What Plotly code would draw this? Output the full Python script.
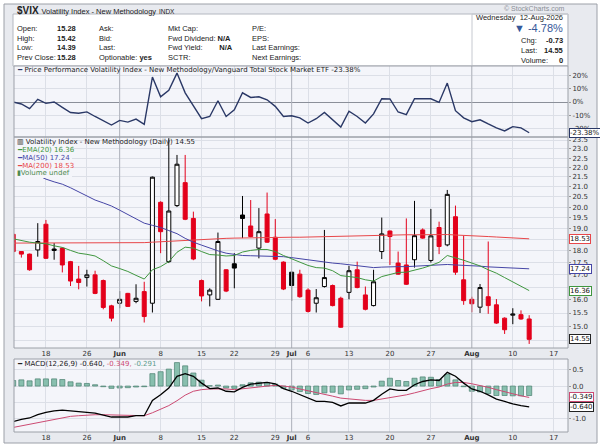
import numpy as np
import pandas as pd
import plotly.graph_objects as go

W, H = 600, 447

# trading calendar (weekends + US market holidays skipped)
HOLIDAYS = ["2026-05-25", "2026-06-19", "2026-07-03"]
DATES = pd.bdate_range("2026-05-12", "2026-08-12", freq="C", holidays=HOLIDAYS)

OPEN = [18.73, 17.97, 17.86, 18.04, 19.19, 18.08, 18.12, 17.54, 16.82, 16.88,
        16.99, 16.76, 15.77, 15.87, 16.25, 15.94, 16.32, 15.87, 20.23, 17.54,
        20.07, 21.21, 19.46, 16.76, 16.19, 16.02, 17.20, 17.45, 19.62, 19.11,
        18.12, 19.67, 18.60, 17.52, 17.10, 17.02, 16.38, 15.87, 16.52, 16.56,
        16.06, 16.29, 17.20, 16.19, 15.78, 17.97, 18.88, 17.48, 17.40, 17.62,
        18.93, 17.59, 19.04, 18.26, 19.54, 16.79, 16.02, 15.72, 16.12, 15.81,
        15.31, 15.42, 15.44, 15.28]
HIGH = [18.85, 17.99, 17.88, 19.24, 19.39, 18.34, 18.15, 17.57, 17.36, 17.20,
        17.16, 16.80, 15.81, 16.34, 16.27, 16.61, 16.71, 21.52, 20.28, 23.60,
        22.67, 22.67, 19.78, 16.80, 16.45, 18.81, 17.22, 17.90, 20.54, 20.34,
        19.95, 20.71, 19.43, 17.55, 17.12, 17.20, 16.45, 16.42, 18.93, 16.60,
        16.12, 17.36, 17.54, 16.52, 17.20, 19.50, 18.90, 17.97, 19.46, 20.30,
        19.00, 19.91, 19.31, 20.84, 20.07, 18.67, 16.12, 16.62, 18.41, 16.03,
        15.34, 15.68, 15.60, 15.42]
LOW = [17.90, 17.71, 17.16, 17.75, 17.65, 17.62, 17.09, 16.54, 16.41, 16.52,
       16.22, 15.64, 15.19, 15.68, 15.73, 15.87, 15.15, 15.52, 17.90, 17.48,
       20.00, 19.38, 17.60, 15.94, 15.75, 16.00, 16.30, 16.45, 18.56, 18.60,
       17.68, 18.35, 17.60, 16.38, 15.96, 16.08, 15.52, 15.52, 16.48, 15.75,
       14.96, 16.02, 16.45, 15.60, 15.75, 17.65, 17.40, 17.00, 16.58, 17.29,
       18.53, 17.50, 17.86, 18.20, 16.99, 15.81, 15.53, 15.50, 15.47, 15.10,
       14.74, 15.09, 15.25, 14.39]
CLOSE = [17.97, 17.86, 17.20, 18.41, 17.68, 18.02, 17.40, 16.74, 16.68, 16.99,
         16.25, 15.71, 15.31, 16.02, 15.75, 16.06, 15.37, 21.49, 18.85, 19.81,
         22.17, 19.42, 17.65, 16.15, 16.38, 18.41, 16.34, 17.27, 19.46, 18.63,
         18.85, 18.38, 17.64, 16.42, 16.56, 16.12, 15.56, 16.08, 16.88, 15.78,
         14.98, 17.16, 16.48, 15.64, 16.71, 18.75, 18.63, 17.02, 16.61, 18.67,
         18.56, 18.66, 18.19, 20.62, 17.10, 15.97, 15.85, 16.48, 15.78, 15.13,
         14.89, 15.46, 15.28, 14.55]

EMA20 = [18.53, 18.45, 18.38, 18.34, 18.31, 18.22, 18.15, 18.02, 17.90, 17.85,
         17.78, 17.58, 17.36, 17.25, 17.13, 16.97, 16.82, 17.20, 17.33, 17.54,
         17.94, 18.16, 18.12, 17.97, 17.84, 17.82, 17.78, 17.80, 17.95, 18.02,
         18.06, 18.06, 17.97, 17.80, 17.65, 17.52, 17.38, 17.29, 17.27, 17.16,
         16.96, 16.92, 16.88, 16.79, 16.74, 16.92, 17.02, 17.09, 17.10, 17.17,
         17.27, 17.38, 17.51, 17.80, 17.71, 17.60, 17.48, 17.36, 17.20, 17.06,
         16.88, 16.71, 16.56, 16.36]
MA50 = [22.20, 22.00, 21.80, 21.60, 21.39, 21.25, 21.13, 20.95, 20.75, 20.55,
        20.34, 20.20, 20.05, 19.85, 19.65, 19.45, 19.24, 19.14, 19.04, 18.90,
        18.76, 18.55, 18.38, 18.25, 18.12, 18.00, 17.90, 17.85, 17.80, 17.79,
        17.78, 17.78, 17.78, 17.75, 17.71, 17.66, 17.62, 17.57, 17.52, 17.48,
        17.45, 17.41, 17.38, 17.33, 17.29, 17.31, 17.33, 17.33, 17.33, 17.35,
        17.36, 17.38, 17.40, 17.42, 17.40, 17.39, 17.38, 17.35, 17.32, 17.30,
        17.28, 17.27, 17.25, 17.24]
MA200 = [18.34, 18.34, 18.34, 18.34, 18.34, 18.34, 18.34, 18.34, 18.34, 18.34,
         18.34, 18.34, 18.34, 18.34, 18.34, 18.35, 18.36, 18.38, 18.40, 18.42,
         18.44, 18.47, 18.50, 18.52, 18.53, 18.54, 18.55, 18.56, 18.57, 18.57,
         18.58, 18.58, 18.59, 18.59, 18.60, 18.60, 18.61, 18.61, 18.62, 18.63,
         18.64, 18.64, 18.65, 18.66, 18.67, 18.68, 18.69, 18.70, 18.71, 18.71,
         18.72, 18.72, 18.72, 18.72, 18.70, 18.69, 18.67, 18.65, 18.63, 18.61,
         18.59, 18.57, 18.55, 18.53]

# price performance vs. Vanguard Total Stock Market ETF, %
PERF = [0.0, -1.5, -5.0, 2.0, -1.0, 0.0, -4.0, -8.0, -8.5, -7.5,
        -11.0, -14.5, -17.5, -14.0, -15.3, -13.0, -17.0, 19.0, 4.0, 9.0,
        22.0, 7.0, -3.0, -12.7, -11.0, 1.0, -11.0, -6.0, 7.0, 3.5,
        4.0, 1.7, -3.3, -11.0, -10.5, -12.0, -16.0, -12.7, -7.9, -13.5,
        -19.0, -7.0, -11.0, -16.0, -9.0, 2.5, 2.3, -7.6, -9.6, 2.5,
        2.3, 2.5, -0.3, 14.4, -6.6, -12.0, -15.0, -13.5, -16.7, -19.7,
        -22.0, -18.7, -19.7, -23.38]

MACD = [-1.09, -1.02, -0.98, -0.88, -0.81, -0.76, -0.74, -0.76, -0.79, -0.79,
        -0.83, -0.89, -0.95, -0.95, -0.95, -0.91, -0.91, -0.44, -0.27, -0.06,
        0.30, 0.38, 0.30, 0.09, -0.08, -0.06, -0.16, -0.18, -0.04, 0.06,
        0.09, 0.11, 0.07, -0.08, -0.16, -0.26, -0.37, -0.47, -0.47, -0.50,
        -0.61, -0.52, -0.52, -0.52, -0.44, -0.25, -0.09, -0.13, -0.13, 0.04,
        0.14, 0.19, 0.17, 0.42, 0.30, 0.09, -0.09, -0.16, -0.27, -0.40,
        -0.47, -0.55, -0.60, -0.640]
SIGNAL = [-1.27, -1.22, -1.16, -1.12, -1.08, -1.02, -0.97, -0.93, -0.91, -0.89,
          -0.88, -0.88, -0.89, -0.90, -0.91, -0.91, -0.91, -0.82, -0.72, -0.60,
          -0.45, -0.28, -0.16, -0.11, -0.09, -0.08, -0.09, -0.11, -0.09, -0.06,
          -0.03, 0.00, 0.02, 0.00, -0.03, -0.09, -0.14, -0.21, -0.26, -0.31,
          -0.37, -0.40, -0.42, -0.44, -0.44, -0.40, -0.34, -0.30, -0.27, -0.21,
          -0.14, -0.08, -0.03, 0.06, 0.11, 0.11, 0.07, 0.02, -0.04, -0.11,
          -0.18, -0.25, -0.30, -0.349]
HIST = [0.17, 0.19, 0.16, 0.22, 0.22, 0.22, 0.20, 0.13, 0.09, 0.08,
        0.04, -0.02, -0.07, -0.06, -0.05, -0.03, -0.02, 0.38, 0.44, 0.52,
        0.72, 0.62, 0.40, 0.18, 0.01, 0.03, -0.06, -0.07, 0.04, 0.10,
        0.12, 0.11, 0.06, -0.07, -0.12, -0.17, -0.23, -0.26, -0.21, -0.19,
        -0.24, -0.12, -0.10, -0.08, -0.03, 0.15, 0.24, 0.17, 0.14, 0.24,
        0.28, 0.27, 0.20, 0.36, 0.19, -0.02, -0.16, -0.18, -0.23, -0.29,
        -0.29, -0.30, -0.30, -0.291]

TICK_DATES = ["2026-05-18", "2026-05-26", "2026-06-01", "2026-06-08", "2026-06-15",
              "2026-06-22", "2026-06-29", "2026-07-01", "2026-07-06", "2026-07-13",
              "2026-07-20", "2026-07-27", "2026-08-03", "2026-08-10", "2026-08-17"]
TICK_TEXT = ["18", "26", "<b>Jun</b>", "8", "15", "22", "29", "<b>Jul</b>", "6", "13",
             "20", "27", "<b>Aug</b>", "10", "17"]
MONTH_DATES = ["2026-06-01", "2026-07-01", "2026-08-03"]

PERF_TICKS = [20, 10, 0, -10, -20]
PRICE_TICKS = [14.5, 15.0, 15.5, 16.0, 16.5, 17.0, 17.5, 18.0, 18.5, 19.0, 19.5,
               20.0, 20.5, 21.0, 21.5, 22.0, 22.5, 23.0, 23.5]
MACD_TICKS = [0.5, 0.0, -0.5, -1.0]

# ---------------------------------------------------------------------------
start = np.datetime64(DATES[0].date(), "D")
x = np.arange(len(DATES))
tickpos = np.busday_count(start, np.array(TICK_DATES, dtype="datetime64[D]"), holidays=HOLIDAYS)
monthpos = np.busday_count(start, np.array(MONTH_DATES, dtype="datetime64[D]"), holidays=HOLIDAYS)

o, h, l, c = map(np.array, (OPEN, HIGH, LOW, CLOSE))
prev = np.r_[o[0], c[:-1]]
down = c < prev

RED = "#e3001b"
PANEL = "#f4f5fa"
GRID = "#dcdfe7"
FRAME = "#e8eaef"
EDGE = "#9ca0a8"
FONT = "DejaVu Sans"
HFONT = "Liberation Sans"

Y1R = [-26.6, 27.4]
Y2R = [14.25, 23.67]
Y3R = [-1.41, 0.83]


def px(v):
    return v / W


def py(v):
    return 1 - v / H


def hidden_under(ticks, tag_vals, tol, fmt):
    # tick labels that sit beneath a value tag are left blank (the tag covers them)
    return ["" if any(abs(t - v) < tol for v in tag_vals) else fmt(t) for t in ticks]


fig = go.Figure()

# darker month separators (drawn first so everything else sits on top)
for xa, ya, (lo, hi) in (("x", "y", Y1R), ("x2", "y2", Y2R), ("x3", "y3", Y3R)):
    mx, my = [], []
    for m in monthpos:
        mx += [m, m, None]
        my += [lo, hi, None]
    fig.add_trace(go.Scatter(x=mx, y=my, mode="lines", xaxis=xa, yaxis=ya,
                             line=dict(color="#b0b4bd", width=1), hoverinfo="skip"))

fig.add_trace(go.Scatter(x=x, y=PERF, mode="lines", xaxis="x", yaxis="y",
                         line=dict(color="#2a3866", width=1.4), hoverinfo="skip"))

for series, col in ((MA200, "#e8474a"), (MA50, "#4646a6"), (EMA20, "#3f963f")):
    fig.add_trace(go.Scatter(x=x, y=series, mode="lines", xaxis="x2", yaxis="y2",
                             line=dict(color=col, width=1), hoverinfo="skip"))

for mask, col in ((down, RED), (~down, "black")):
    fig.add_trace(go.Candlestick(
        x=x[mask], open=o[mask], high=h[mask], low=l[mask], close=c[mask],
        xaxis="x2", yaxis="y2", hoverinfo="skip",
        increasing=dict(line=dict(color=col, width=1), fillcolor="white"),
        decreasing=dict(line=dict(color=col, width=1), fillcolor=col),
    ))

fig.add_trace(go.Bar(x=x, y=HIST, xaxis="x3", yaxis="y3", width=0.62,
                     marker=dict(color="#88bfae", line=dict(color="#4b7f70", width=0.7)),
                     hoverinfo="skip"))
fig.add_trace(go.Scatter(x=x, y=SIGNAL, mode="lines", xaxis="x3", yaxis="y3",
                         line=dict(color="#cc4a72", width=1), hoverinfo="skip"))
fig.add_trace(go.Scatter(x=x, y=MACD, mode="lines", xaxis="x3", yaxis="y3",
                         line=dict(color="black", width=1.3), hoverinfo="skip"))

xr = [0.1, 67.74]
xcommon = dict(domain=[px(14), px(568)], range=xr, tickvals=tickpos, ticktext=TICK_TEXT,
               showgrid=True, gridcolor=GRID, zeroline=False, ticks="",
               tickfont=dict(family=FONT, size=7, color="#333"))
ycommon = dict(side="right", showgrid=True, gridcolor=GRID, ticks="outside", ticklen=2,
               tickcolor="#999", tickfont=dict(family=FONT, size=7, color="#333"))

price_tags = [MA200[-1], EMA20[-1], CLOSE[-1]]
macd_tags = [SIGNAL[-1], MACD[-1]]

fig.update_layout(
    width=W, height=H, autosize=False,
    margin=dict(l=0, r=0, t=0, b=0),
    paper_bgcolor="white", plot_bgcolor="rgba(0,0,0,0)",
    showlegend=False, barmode="overlay",
    xaxis=dict(xcommon, anchor="y", showticklabels=False),
    xaxis2=dict(xcommon, anchor="y2", matches="x", rangeslider=dict(visible=False)),
    xaxis3=dict(xcommon, anchor="y3", matches="x"),
    yaxis=dict(ycommon, anchor="x", domain=[py(137), py(66)], range=Y1R,
               tickvals=PERF_TICKS, ticktext=[f"{v}%" for v in PERF_TICKS],
               zeroline=True, zerolinecolor="#8b8f99", zerolinewidth=1),
    yaxis2=dict(ycommon, anchor="x2", domain=[py(348), py(137)], type="log",
                range=list(np.log10(Y2R)), tickvals=PRICE_TICKS,
                ticktext=hidden_under(PRICE_TICKS, price_tags, 0.2, lambda t: f"{t:.1f}"),
                zeroline=False),
    yaxis3=dict(ycommon, anchor="x3", domain=[py(432), py(359)], range=Y3R, tickvals=MACD_TICKS,
                ticktext=hidden_under(MACD_TICKS, macd_tags, 0.16, lambda t: f"{t:.1f}"),
                zeroline=False),
)


def rect(x0, y0, x1, y1, fill=None, line=None, layer="below"):
    return dict(type="rect", xref="paper", yref="paper", x0=px(x0), x1=px(x1), y0=py(y1), y1=py(y0),
                fillcolor=fill or "rgba(0,0,0,0)", line=dict(color=line or "rgba(0,0,0,0)", width=1),
                layer=layer)


panels = [(66, 137), (137, 348), (359, 432)]
shapes = [rect(4, 4, 597, 443, FRAME, EDGE), rect(13, 14, 568, 66, "white", "#b4b8c0"),
          rect(472, 14, 568, 66, None, "#c6c9d0")]
shapes += [rect(14, a, 568, b, PANEL) for a, b in panels]
shapes.append(rect(14, 138, 72, 178, PANEL, None, "above"))
shapes += [rect(14, a, 568, b, None, EDGE, "above") for a, b in panels]
fig.update_layout(shapes=shapes)

ann = []


def text(xp, yp, s, size=7.5, color="#222", anchor="left", family=HFONT):
    ann.append(dict(xref="paper", yref="paper", x=px(xp), y=py(yp), text=s, showarrow=False,
                    xanchor=anchor, yanchor="middle", font=dict(family=family, size=size, color=color)))


# header
text(15, 10, "<b>$VIX</b> <span style='font-size:7.5px'>Volatility Index - New Methodology</span>"
             " <span style='font-size:6.5px'>INDX</span>", size=10)
text(567, 8, "© StockCharts.com", size=7, color="#8a8e96", anchor="right")
rows = [29, 38.5, 48, 57.5]
for yy, lab, val in zip(rows, ["Open:", "High:", "Low:", "Prev Close:"],
                        [OPEN[-1], HIGH[-1], LOW[-1], CLOSE[-2]]):
    text(15, yy, lab)
    text(78, yy, f"<b>{val:.2f}</b>", anchor="right")
for yy, lab in zip(rows, ["Ask:", "Bid:", "Last:", "Optionable: <b>yes</b>"]):
    text(97, yy, lab)
for yy, lab in zip(rows, ["Mkt Cap:", "Fwd Dividend: <b>N/A</b>", "Fwd Yield:        <b>N/A</b>", "SCTR:"]):
    text(166, yy, lab)
for yy, lab in zip(rows, ["P/E:", "EPS:", "Last Earnings:", "Next Earnings:"]):
    text(250, yy, lab)
pct = (CLOSE[-1] / CLOSE[-2] - 1) * 100
text(565, 17, "Wednesday  12-Aug-2026", anchor="right")
text(565, 28, f"▼ {pct:.2f}%", size=11, color="#36589a", anchor="right")
for yy, lab, val in zip([40, 50, 60], ["Chg:", "Last:", "Volume:"],
                        [f"{CLOSE[-1] - CLOSE[-2]:.2f}", f"{CLOSE[-1]:.2f}", "0"]):
    text(519, yy, lab)
    text(565, yy, f"<b>{val}</b>", anchor="right")

# panel legends
text(15, 70, f"<span style='color:#2a3866'>━</span> Price Performance Volatility Index - New Methodology"
             f"/Vanguard Total Stock Market ETF {PERF[-1]:.2f}%", size=7, family=FONT)
text(15, 142, f"▥ Volatility Index - New Methodology (Daily) {CLOSE[-1]:.2f}", size=7, family=FONT)
text(15, 150, f"━EMA(20) {EMA20[-1]:.2f}", size=7, color="#3f963f", family=FONT)
text(15, 158, f"━MA(50) {MA50[-1]:.2f}", size=7, color="#4646a6", family=FONT)
text(15, 166, f"━MA(200) {MA200[-1]:.2f}", size=7, color="#e8474a", family=FONT)
text(15, 173, "▮Volume undef", size=7, color="#4f8a4f", family=FONT)
text(15, 364, f"━ MACD(12,26,9) {MACD[-1]:.3f}, <span style='color:#cc4a72'>{SIGNAL[-1]:.3f},</span>"
              f" <span style='color:#5e9c8c'>{HIST[-1]:.3f}</span>", size=7, family=FONT)

# value tags on the right axis
tags = [("y", PERF[-1], f"{PERF[-1]:.2f}%", "#2a3866"),
        ("y2", np.log10(MA200[-1]), f"{MA200[-1]:.2f}", "#e8474a"),
        ("y2", np.log10(MA50[-1]), f"{MA50[-1]:.2f}", "#4646a6"),
        ("y2", np.log10(EMA20[-1]), f"{EMA20[-1]:.2f}", "#3f963f"),
        ("y2", np.log10(CLOSE[-1]), f"{CLOSE[-1]:.2f}", "#222"),
        ("y3", SIGNAL[-1], f"{SIGNAL[-1]:.3f}", "#cc4a72"),
        ("y3", MACD[-1], f"{MACD[-1]:.3f}", "#222")]
for yref, yv, s, col in tags:
    ann.append(dict(xref="paper", yref=yref, x=px(569), y=yv, text=s, showarrow=False,
                    xanchor="left", yanchor="middle", bgcolor="white", bordercolor=col,
                    borderwidth=1, borderpad=0, font=dict(family=FONT, size=7, color="#111")))

fig.update_layout(annotations=ann)
fig.write_html("out.html", config={"displayModeBar": False},
               post_script="document.body.style.margin='0';")
